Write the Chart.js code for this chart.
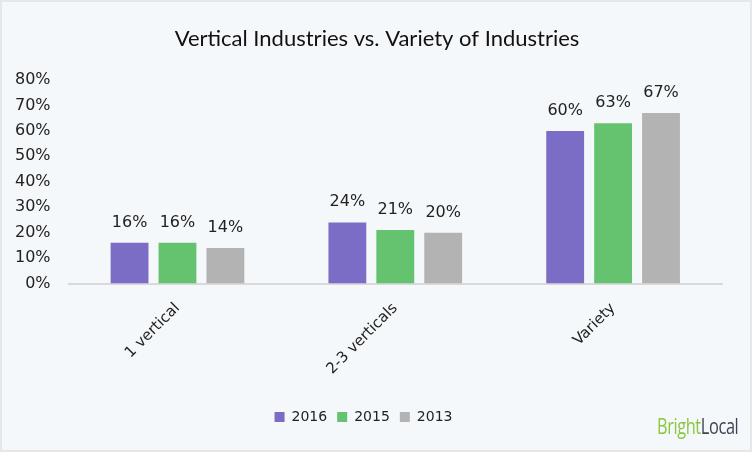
<!DOCTYPE html>
<html>
<head>
<meta charset="utf-8">
<script src="https://cdn.jsdelivr.net/npm/chart.js@4.4.0/dist/chart.umd.min.js"></script>
<style>
  html, body { margin: 0; padding: 0; }
  #wrap {
    position: relative;
    width: 748px; height: 448px;
    border: 2px solid #e4e6e8;
    background: #f5f8fb;
  }
  #logo {
    position: absolute; right: 12px; bottom: 10px;
    font-family: "Open Sans", sans-serif; font-size: 21px; letter-spacing: -0.5px;
    transform: scaleX(0.78); transform-origin: right bottom;
  }
  #logo .b { color: #8cc63f; }
  #logo .l { color: #3b4552; }
</style>
</head>
<body>
<div id="wrap">
  <canvas id="chart" width="748" height="448"></canvas>
  <div id="logo"><span class="b">Bright</span><span class="l">Local</span></div>
</div>
<script>
// chart data
var title = "Vertical Industries vs. Variety of Industries";
var categories = ["1 vertical", "2-3 verticals", "Variety"];
var years = ["2016", "2015", "2013"];
var values2016 = [16, 24, 60];
var values2015 = [16, 21, 63];
var values2013 = [14, 20, 67];
var colors = ["#7b6cc6", "#65c370", "#b3b3b3"];

// draws the value over each bar
var valueLabels = {
    id: "valueLabels",
    afterDatasetsDraw: function(chart) {
        var ctx = chart.ctx;
        ctx.save();
        ctx.font = "16px 'DejaVu Sans', sans-serif";
        ctx.fillStyle = "#222";
        ctx.textAlign = "center";
        ctx.textBaseline = "alphabetic";
        chart.data.datasets.forEach(function(ds, i) {
            chart.getDatasetMeta(i).data.forEach(function(bar, j) {
                ctx.fillText(ds.data[j] + "%", bar.x, bar.y - 16);
            });
        });
        ctx.restore();
    }
};

// title centred on the whole canvas, not on the padded box
var centredTitle = {
    id: "centredTitle",
    afterDraw: function(chart) {
        var ctx = chart.ctx;
        ctx.save();
        ctx.font = "22px Lato";
        ctx.fillStyle = "#111";
        ctx.textAlign = "center";
        ctx.textBaseline = "middle";
        ctx.fillText(title, chart.width / 2 + 1, 37);
        ctx.restore();
    }
};

var ctx = document.getElementById("chart");
var allValues = [values2016, values2015, values2013];

var chartData = {
    labels: categories,
    datasets: years.map(function(y, i) {
        return {
            label: y,
            data: allValues[i],
            backgroundColor: colors[i],
            categoryPercentage: 0.66,
            barPercentage: 0.79
        };
    })
};

var config = {
    type: "bar",
    data: chartData,
    plugins: [valueLabels, centredTitle],
    options: {
        responsive: false,
        animation: false,
        layout: { padding: { left: 3, right: 28, top: 78, bottom: 16 } },
        plugins: {
            title: { display: false },
            legend: {
                position: "bottom",
                labels: {
                    boxWidth: 10, boxHeight: 10,
                    color: "#222",
                    font: { family: "'DejaVu Sans', sans-serif", size: 14 },
                    padding: 10
                }
            },
            tooltip: { enabled: false }
        },
        scales: {
            y: {
                min: 0, max: 80,
                ticks: {
                    stepSize: 10,
                    color: "#222",
                    padding: 10,
                    font: { family: "'DejaVu Sans', sans-serif", size: 16 },
                    callback: function(v) { return v + "%"; }
                },
                grid: { display: false },
                border: { display: false }
            },
            x: {
                ticks: {
                    color: "#222",
                    minRotation: 45, maxRotation: 45,
                    padding: 8,
                    font: { family: "'DejaVu Sans', sans-serif", size: 15 }
                },
                grid: { display: false },
                border: { display: true, color: "#d9d9d9", width: 2 },
                // leave room between the rotated labels and the legend
                afterFit: function(scale) { scale.height += 14; }
            }
        }
    }
};

var chart = new Chart(ctx, config);
</script>
</body>
</html>
